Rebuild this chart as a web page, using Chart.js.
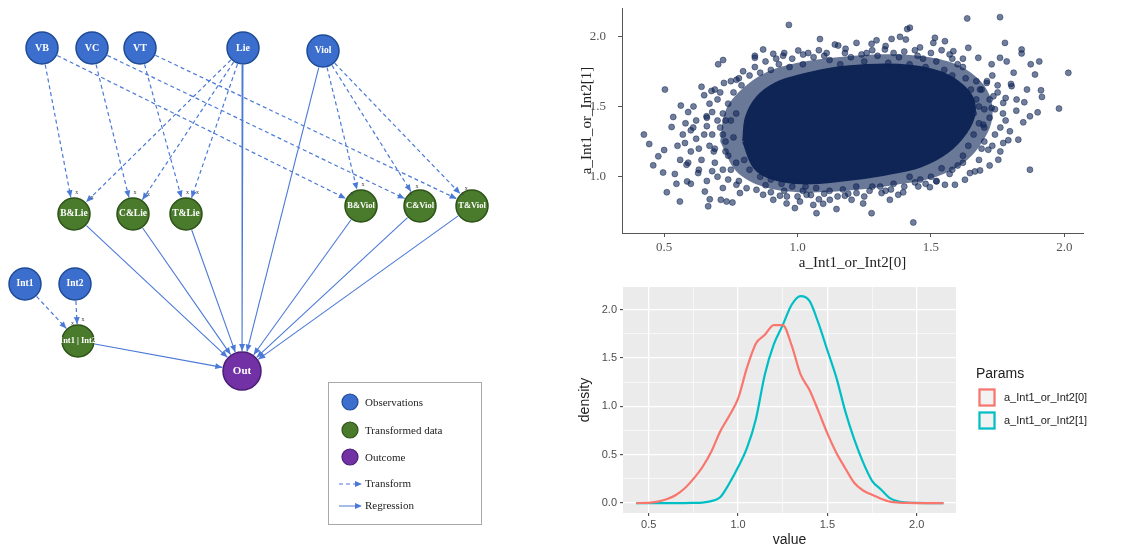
<!DOCTYPE html>
<html><head><meta charset="utf-8">
<script src="https://cdn.jsdelivr.net/npm/chart.js@4"></script>
<style>
html,body{margin:0;padding:0;background:#fff;width:1130px;height:549px;overflow:hidden}
canvas{position:absolute}
#g{left:0;top:0}
#s{left:570px;top:0}
#d{left:570px;top:280px}
</style></head><body>
<canvas id="g" width="560" height="549"></canvas>
<canvas id="s" width="560" height="280"></canvas>
<canvas id="d" width="560" height="269"></canvas>
<script>
// ================= DATA =================
// --- diagram ---
const nodeNames = ['VB','VC','VT','Lie','Viol','B&Lie','C&Lie','T&Lie','B&Viol','C&Viol','T&Viol','Int1','Int2','Int1 | Int2','Out'];
const nodeKinds = ['Observations','Observations','Observations','Observations','Observations',
  'Transformed data','Transformed data','Transformed data','Transformed data','Transformed data','Transformed data',
  'Observations','Observations','Transformed data','Outcome'];
const nodeX = [42,92,140,243,323,74,133,186,361,420,472,25,75,78,242];
const nodeY = [48,48,48,48,51,214,214,214,206,206,206,284,284,341,371];
const transformFrom = ['VB','VB','VC','VC','VT','VT','Lie','Lie','Lie','Viol','Viol','Viol','Int1','Int2'];
const transformTo   = ['B&Lie','B&Viol','C&Lie','C&Viol','T&Lie','T&Viol','B&Lie','C&Lie','T&Lie','B&Viol','C&Viol','T&Viol','Int1 | Int2','Int1 | Int2'];
const regressionFrom = ['B&Lie','C&Lie','T&Lie','Lie','Viol','B&Viol','C&Viol','T&Viol','Int1 | Int2'];
const regressionTo = 'Out';
const diagramLegend = ['Observations','Transformed data','Outcome','Transform','Regression'];

// --- scatter ---
const scatterXTitle = 'a_Int1_or_Int2[0]';
const scatterYTitle = 'a_Int1_or_Int2[1]';
const scatterXTicks = [0.5,1.0,1.5,2.0];
const scatterYTicks = [1.0,1.5,2.0];
// outline of the saturated core of the point cloud
const coreX = [0.80,0.81,0.85,0.92,1.02,1.15,1.30,1.43,1.53,1.60,1.65,1.66,1.63,1.56,1.46,1.32,1.17,1.02,0.91,0.84,0.80];
const coreY = [1.25,1.42,1.56,1.66,1.72,1.77,1.79,1.78,1.74,1.67,1.57,1.45,1.32,1.18,1.08,1.02,0.98,0.96,0.99,1.07,1.25];
// outline of the half-saturated band around the core
const haloX = [0.71,0.73,0.79,0.88,1.00,1.15,1.30,1.45,1.58,1.67,1.72,1.73,1.70,1.63,1.52,1.36,1.18,1.00,0.87,0.77,0.71];
const haloY = [1.25,1.47,1.62,1.74,1.81,1.85,1.87,1.86,1.81,1.71,1.58,1.42,1.27,1.11,1.00,0.94,0.90,0.89,0.93,1.04,1.25];
// individual draws outside the core
const scatterPoints = [
 [0.424,1.30],[0.444,1.233],[0.459,1.081],[0.478,1.145],[0.503,1.62],[0.50,1.19],[0.496,1.03],[0.51,0.89],
 [0.528,1.354],[0.534,1.425],[0.546,0.95],[0.559,0.824],[0.5625,1.506],[0.578,1.24],[0.584,1.085],[0.586,0.967],
 [0.59,1.46],[0.60,1.18],[0.609,1.35],[0.6275,1.026],[0.64,1.64],[0.6525,0.895],[0.659,1.43],[0.665,0.79],
 [0.671,0.84],[0.6775,1.61],[0.686,1.18],[0.7025,1.80],[0.721,1.83],[0.7125,0.836],[0.734,0.824],[0.756,0.817],
 [0.724,1.667],[0.771,1.69],[0.796,1.75],[0.84,1.846],[0.871,1.905],[0.909,1.874],[0.946,1.86],[0.9675,2.08],
 [1.0025,1.898],[1.021,1.869],[1.084,1.979],[1.109,1.88],[1.1525,1.933],[1.1775,1.88],[1.221,1.952],[1.259,1.88],
 [1.2775,1.945],[1.296,1.97],[1.3275,1.905],[1.3525,1.98],[1.384,1.995],[1.406,1.976],[1.411,2.05],[1.421,2.06],
 [1.459,1.92],[1.509,1.952],[1.515,1.988],[1.5525,1.964],[1.584,1.893],[1.636,2.126],[1.64,1.917],[1.6775,1.846],
 [1.7275,1.80],[1.759,1.846],[1.759,2.135],[1.7775,1.952],[1.784,1.82],[1.81,1.74],[1.84,1.877],[1.84,1.905],
 [1.874,1.80],[1.89,1.727],[1.906,1.82],[1.9125,1.615],[1.916,1.568],[2.015,1.739],[1.98,1.485],[1.90,1.458],
 [1.871,1.43],[1.846,1.387],[1.871,1.05],[1.8275,1.264],[1.796,1.323],[1.771,1.24],[1.7525,1.121],[1.7275,1.489],
 [1.715,1.192],[1.696,1.37],[1.684,1.045],[1.665,1.038],[1.646,1.026],[1.6275,0.979],[1.684,1.62],[1.709,1.667],
 [1.734,1.572],[1.771,1.525],[1.8025,1.644],[1.821,1.549],[1.59,0.943],[1.5525,0.943],[1.521,0.967],[1.496,0.926],
 [1.4525,0.931],[1.396,0.889],[1.3775,0.872],[1.434,0.675],[1.346,0.836],[1.315,0.884],[1.2775,0.741],[1.246,0.81],
 [1.221,0.884],[1.2025,0.836],[1.1775,0.865],[1.146,0.77],[1.121,0.836],[1.096,0.808],[1.071,0.741],[1.059,0.80],
 [1.034,0.872],[1.009,0.824],[0.99,0.777],[0.959,0.81],[0.934,0.865],[0.909,0.836],[0.871,0.872],[0.846,0.907],
 [0.809,0.919],[0.784,0.884],[0.771,0.943],
 [0.70,1.55],[0.72,1.45],[0.71,1.35],[0.73,1.25],[0.74,1.15],[0.72,1.05],[0.76,1.60],[0.75,1.40],[0.77,1.10],
 [0.68,1.30],[0.69,1.20],[0.66,1.42],[0.67,1.52],[0.70,1.00],[0.74,0.98],[0.64,1.12],[0.62,1.27],[0.63,1.05],
 [0.66,0.97],[0.61,1.50],[0.58,1.38],[0.57,1.30],[0.56,1.12],[0.55,1.22],[0.54,1.02],[0.60,0.95],[0.65,1.58],
 [0.79,1.65],[0.78,1.70],[0.82,1.72],[0.84,1.78],[0.88,1.82],[0.90,1.76],[0.93,1.80],[0.98,1.84],[1.02,1.80],
 [1.06,1.85],[1.12,1.83],[1.16,1.80],[1.20,1.85],[1.25,1.82],[1.30,1.86],[1.34,1.81],[1.38,1.85],[1.42,1.80],
 [1.45,1.86],[1.48,1.78],[1.52,1.82],[1.55,1.76],[1.58,1.72],[1.60,1.80],[1.63,1.70],[1.65,1.62],[1.67,1.55],
 [1.66,1.45],[1.68,1.38],[1.66,1.30],[1.64,1.22],[1.62,1.15],[1.60,1.08],[1.57,1.02],[1.54,1.06],[1.50,1.00],
 [1.46,0.98],[1.42,1.00],[1.36,0.95],[1.31,0.93],[1.27,0.90],[1.22,0.93],[1.17,0.91],[1.12,0.90],[1.07,0.92],
 [1.02,0.90],[0.98,0.93],[0.94,0.95],[0.90,0.98],[0.86,1.00],[0.82,1.05],[0.80,1.12],[1.70,1.48],[1.72,1.42],
 [1.74,1.30],[1.70,1.25],[1.69,1.62],[1.71,1.68],[1.75,1.60],[1.73,1.72],[1.78,1.40],[1.76,1.18],[1.68,1.12],
 [1.78,1.56],[1.80,1.66],[1.82,1.47],[1.85,1.53],[1.86,1.62],[1.79,1.26],[1.72,1.08],[0.90,0.89],[1.00,0.86],
 [1.05,0.87],[1.15,0.86],[1.25,0.86],[1.33,0.90],[1.40,0.93],[1.48,0.95],[0.84,1.86],[0.95,1.88],[1.08,1.90],
 [1.18,1.91],[1.28,1.90],[1.40,1.89],[1.50,1.88],[1.57,1.87],[1.62,1.84],
 [0.66,1.36],[0.68,1.46],[0.69,1.10],[0.71,1.60],[0.72,1.30],[0.73,1.18],[0.74,1.52],[0.75,1.05],[0.76,1.28],
 [0.77,1.45],[0.70,1.40],[0.67,1.22],[0.65,1.30],[0.73,1.40],[0.75,1.68],[0.69,1.62],[0.78,0.97],[0.72,0.92],
 [0.68,1.04],[0.62,1.40],[0.63,1.20],[0.60,1.33],[0.59,1.10],
 [0.86,1.74],[0.92,1.84],[0.97,1.78],[1.04,1.88],[1.10,1.86],[1.14,1.94],[1.24,1.87],[1.33,1.93],[1.36,1.88],
 [1.44,1.90],[1.47,1.84],[1.54,1.90],[1.58,1.84],[1.62,1.78],
 [0.88,0.94],[0.95,0.90],[1.03,0.93],[1.10,0.88],[1.19,0.88],[1.28,0.93],[1.35,0.91],[1.44,0.96],[1.52,0.97],
 [1.58,1.05],[1.62,1.10],[0.96,0.86],[1.08,0.84],
 [1.68,1.50],[1.70,1.35],[1.69,1.20],[1.72,1.55],[1.74,1.48],[1.76,1.35],[1.75,1.65],[1.67,1.68],[1.73,1.22],[1.77,1.45]
];

// --- density ---
const densityX    = [0.43,0.50,0.55,0.60,0.65,0.70,0.75,0.80,0.85,0.90,0.95,1.00,1.05,1.10,1.15,1.20,1.25,1.30,1.35,1.40,1.45,1.50,1.55,1.60,1.65,1.70,1.75,1.80,1.85,1.90,1.95,2.00,2.05,2.10,2.15];
const densityInt0 = [0.00,0.002,0.015,0.04,0.08,0.15,0.25,0.37,0.53,0.74,0.90,1.08,1.40,1.65,1.74,1.84,1.84,1.63,1.33,1.17,0.95,0.72,0.52,0.36,0.21,0.13,0.085,0.045,0.015,0.005,0.001,0,0,0,0];
const densityInt1 = [0,0,0,0,0,0,0.002,0.005,0.02,0.06,0.20,0.37,0.57,0.87,1.33,1.64,1.84,2.05,2.14,2.09,1.86,1.58,1.30,0.95,0.66,0.42,0.23,0.14,0.05,0.015,0.004,0.001,0,0,0];
const densityXTicks = [0.5,1.0,1.5,2.0];
const densityXMinor = [0.75,1.25,1.75];
const densityYTicks = [0.0,0.5,1.0,1.5,2.0];
const densityYMinor = [0.25,0.75,1.25,1.75];
const paramNames = ['a_Int1_or_Int2[0]','a_Int1_or_Int2[1]'];
const legendTitle = 'Params';

// ================= DIAGRAM =================
const SERIF = "'Liberation Serif','DejaVu Serif',serif";
const SANS = "'Liberation Sans',Arial,sans-serif";
const kindStyle = {
  'Observations': {fill:'#3c6fcd', stroke:'#1e4b95', r:16},
  'Transformed data': {fill:'#4a7a2b', stroke:'#2c5218', r:16},
  'Outcome': {fill:'#7232a6', stroke:'#4a1b74', r:19}
};
const EDGE = '#4a79d6';
const ni = n => nodeNames.indexOf(n);
function edgePts(a, b) {
  const i = ni(a), j = ni(b);
  const dx = nodeX[j]-nodeX[i], dy = nodeY[j]-nodeY[i], L = Math.hypot(dx, dy);
  const ux = dx/L, uy = dy/L;
  const r1 = kindStyle[nodeKinds[i]].r + 1, r2 = kindStyle[nodeKinds[j]].r + 1;
  return [{x:nodeX[i]+ux*r1, y:nodeY[i]+uy*r1}, {x:nodeX[j]-ux*r2, y:nodeY[j]-uy*r2}];
}
const gDatasets = [];
transformFrom.forEach((f, k) => gDatasets.push({data: edgePts(f, transformTo[k]), showLine:true, pointRadius:0,
  borderColor:EDGE, borderWidth:1.2, borderDash:[4,3], edge:'dash'}));
regressionFrom.forEach(f => gDatasets.push({data: edgePts(f, regressionTo), showLine:true, pointRadius:0,
  borderColor:EDGE, borderWidth:1.1, edge:'solid'}));
gDatasets.push({data: nodeNames.map((n, i) => ({x:nodeX[i], y:nodeY[i]})),
  pointRadius: nodeKinds.map(k => kindStyle[k].r),
  backgroundColor: nodeKinds.map(k => kindStyle[k].fill),
  borderColor: nodeKinds.map(k => kindStyle[k].stroke),
  borderWidth: 1.5, nodes:true});

function arrow(ctx, x, y, ang, color) {
  ctx.save(); ctx.fillStyle = color; ctx.translate(x, y); ctx.rotate(ang);
  ctx.beginPath(); ctx.moveTo(0,0); ctx.lineTo(-7,-3); ctx.lineTo(-7,3); ctx.closePath(); ctx.fill(); ctx.restore();
}
const graphPlugin = {
  id:'graphDeco',
  afterDatasetsDraw(chart) {
    const ctx = chart.ctx;
    chart.data.datasets.forEach((ds, i) => {
      const meta = chart.getDatasetMeta(i);
      if (ds.edge) {
        const a = meta.data[0], b = meta.data[1];
        arrow(ctx, b.x, b.y, Math.atan2(b.y-a.y, b.x-a.x), EDGE);
        if (ds.edge === 'dash') {
          ctx.save(); ctx.fillStyle = '#444'; ctx.font = '6px ' + SERIF;
          ctx.textAlign = 'center'; ctx.textBaseline = 'middle';
          ctx.fillText('x', b.x + 6, b.y - 5); ctx.restore();
        }
      }
      if (ds.nodes) {
        ctx.save(); ctx.fillStyle = '#fff'; ctx.textAlign = 'center'; ctx.textBaseline = 'middle';
        meta.data.forEach((p, k) => {
          const name = nodeNames[k];
          const sz = name === 'Out' ? 11 : (name.length > 5 ? 8.5 : (name.length > 3 ? 9.5 : 10));
          ctx.font = 'bold ' + sz + 'px ' + SERIF;
          ctx.fillText(name, p.x, p.y);
        });
        ctx.restore();
      }
    });
    // legend box
    const xs = chart.scales.x, ys = chart.scales.y;
    const X = v => xs.getPixelForValue(v), Y = v => ys.getPixelForValue(v);
    ctx.save();
    ctx.strokeStyle = '#a8a8a8'; ctx.lineWidth = 1;
    ctx.strokeRect(X(328)+0.5, Y(382)+0.5, 153, 142);
    const rowY = [402, 430, 457, 484, 506];
    ctx.font = '11px ' + SERIF; ctx.fillStyle = '#222'; ctx.textBaseline = 'middle'; ctx.textAlign = 'left';
    diagramLegend.forEach((lab, k) => {
      const y = Y(rowY[k]);
      if (k < 3) {
        const st = kindStyle[lab];
        ctx.beginPath(); ctx.arc(X(350), y, 8, 0, Math.PI*2);
        ctx.fillStyle = st.fill; ctx.fill(); ctx.strokeStyle = st.stroke; ctx.lineWidth = 1.2; ctx.stroke();
        ctx.fillStyle = '#222'; ctx.fillText(lab, X(365), y + 1);
      } else {
        ctx.strokeStyle = EDGE; ctx.lineWidth = 1;
        ctx.setLineDash(k === 3 ? [4,3] : []);
        ctx.beginPath(); ctx.moveTo(X(339), y); ctx.lineTo(X(356), y); ctx.stroke();
        ctx.setLineDash([]);
        arrow(ctx, X(362), y, 0, EDGE);
        ctx.fillStyle = '#222'; ctx.fillText(lab, X(365), y);
      }
    });
    ctx.restore();
  }
};
new Chart(document.getElementById('g'), {
  type:'scatter',
  data:{datasets:gDatasets},
  options:{responsive:false, animation:false, events:[],
    layout:{padding:0, autoPadding:false},
    plugins:{legend:{display:false}, tooltip:{enabled:false}},
    scales:{x:{type:'linear', min:0, max:560, display:false}, y:{type:'linear', min:0, max:549, reverse:true, display:false}}
  },
  plugins:[graphPlugin]
});

// ================= SCATTER =================
const fixTicks = vals => scale => { scale.ticks = vals.map(v => ({value:v})); };
const fitH = h => s => { s.height = h; s.paddingLeft = 0; s.paddingRight = 0; };
const fitW = w => s => { s.width = w; s.paddingTop = 0; s.paddingBottom = 0; };
new Chart(document.getElementById('s'), {
  type:'scatter',
  data:{datasets:[
    {data: scatterPoints.map(p => ({x:p[0], y:p[1]})), pointRadius:3,
     backgroundColor:'rgba(16,38,88,0.6)', borderColor:'rgba(12,32,78,0.65)', borderWidth:0.7, order:1},
    {data: coreX.map((x, i) => ({x, y:coreY[i]})), showLine:true, fill:'shape', tension:0.35,
     backgroundColor:'#0e2555', borderColor:'#0e2555', borderWidth:4, pointRadius:0, order:2},
    {data: haloX.map((x, i) => ({x, y:haloY[i]})), showLine:true, fill:'shape', tension:0.35,
     backgroundColor:'rgba(16,38,88,0.62)', borderColor:'rgba(16,38,88,0)', borderWidth:0, pointRadius:0, order:3}
  ]},
  options:{responsive:false, animation:false, events:[],
    layout:{padding:{left:0, right:47, top:8, bottom:0}, autoPadding:false},
    plugins:{legend:{display:false}, tooltip:{enabled:false}},
    scales:{
      x:{type:'linear', min:0.342, max:2.07, afterBuildTicks:fixTicks(scatterXTicks),
         afterFit:fitH(47),
         border:{display:true, color:'#555', width:1},
         grid:{drawOnChartArea:false, drawTicks:true, tickLength:4, color:'#555'},
         ticks:{callback:v => v.toFixed(1), color:'#555', padding:3, maxRotation:0, font:{family:SERIF, size:13}},
         title:{display:true, text:scatterXTitle, color:'#222', padding:{top:0, bottom:8}, font:{family:SERIF, size:15}}},
      y:{type:'linear', min:0.6, max:2.2, afterBuildTicks:fixTicks(scatterYTicks),
         afterFit:fitW(52),
         border:{display:true, color:'#555', width:1},
         grid:{drawOnChartArea:false, drawTicks:true, tickLength:4, color:'#555'},
         ticks:{callback:v => v.toFixed(1), color:'#555', padding:12, font:{family:SERIF, size:13}},
         title:{display:true, text:scatterYTitle, color:'#222', padding:{top:8, bottom:0}, font:{family:SERIF, size:15}}}
    }
  }
});

// ================= DENSITY =================
const COLS = ['#F8766D', '#00BFC4'];
const densityPlugin = {
  id:'densityDeco',
  beforeDraw(chart) {
    const {ctx, chartArea:a} = chart;
    ctx.save(); ctx.fillStyle = '#EBEBEB'; ctx.fillRect(a.left, a.top, a.right-a.left, a.bottom-a.top); ctx.restore();
  },
  afterDraw(chart) {
    const ctx = chart.ctx, a = chart.chartArea;
    const lx = a.right + 20;
    ctx.save();
    ctx.textBaseline = 'middle'; ctx.textAlign = 'left';
    ctx.fillStyle = '#222'; ctx.font = '14px ' + SANS;
    ctx.fillText(legendTitle, lx, 94);
    paramNames.forEach((n, k) => {
      const cy = 118 + k*23;
      ctx.fillStyle = '#F2F2F2'; ctx.fillRect(lx+2, cy-10, 18, 19);
      ctx.strokeStyle = COLS[k]; ctx.lineWidth = 2.2; ctx.strokeRect(lx+3.5, cy-8.5, 15, 16);
      ctx.fillStyle = '#222'; ctx.font = '11px ' + SANS;
      ctx.fillText(n, lx + 28, cy);
    });
    ctx.restore();
  }
};
const isMajor = (list, v) => list.some(t => Math.abs(t - v) < 1e-9);
new Chart(document.getElementById('d'), {
  type:'scatter',
  data:{datasets: [densityInt0, densityInt1].map((arr, k) => ({
    label: paramNames[k], data: densityX.map((x, i) => ({x, y:arr[i]})),
    showLine:true, pointRadius:0, borderColor:COLS[k], borderWidth:2.2, cubicInterpolationMode:'monotone', fill:false
  }))},
  options:{responsive:false, animation:false, events:[],
    layout:{padding:{left:0, right:174, top:7, bottom:0}, autoPadding:false},
    plugins:{legend:{display:false}, tooltip:{enabled:false}},
    scales:{
      x:{type:'linear', min:0.356, max:2.22,
         afterBuildTicks:fixTicks(densityXTicks.concat(densityXMinor).sort((a,b)=>a-b)),
         afterFit:fitH(36),
         border:{display:false},
         grid:{color:'#fff', lineWidth:c => isMajor(densityXTicks, c.tick.value) ? 1.3 : 0.6,
               tickColor:c => isMajor(densityXTicks, c.tick.value) ? '#333' : 'rgba(0,0,0,0)', tickLength:3, tickWidth:1},
         ticks:{callback:v => isMajor(densityXTicks, v) ? v.toFixed(1) : '', color:'#4D4D4D', padding:2, maxRotation:0, autoSkip:false, font:{family:SANS, size:11}},
         title:{display:true, text:'value', color:'#222', padding:{top:0, bottom:0}, font:{family:SANS, size:14}}},
      y:{type:'linear', min:-0.103, max:2.234,
         afterBuildTicks:fixTicks(densityYTicks.concat(densityYMinor).sort((a,b)=>a-b)),
         afterFit:fitW(53),
         border:{display:false},
         grid:{color:'#fff', lineWidth:c => isMajor(densityYTicks, c.tick.value) ? 1.3 : 0.6,
               tickColor:c => isMajor(densityYTicks, c.tick.value) ? '#333' : 'rgba(0,0,0,0)', tickLength:3, tickWidth:1},
         ticks:{callback:v => isMajor(densityYTicks, v) ? v.toFixed(1) : '', color:'#4D4D4D', padding:3, autoSkip:false, font:{family:SANS, size:11}},
         title:{display:true, text:'density', color:'#222', padding:{top:7, bottom:0}, font:{family:SANS, size:14}}}
    }
  },
  plugins:[densityPlugin]
});
</script>
</body></html>
